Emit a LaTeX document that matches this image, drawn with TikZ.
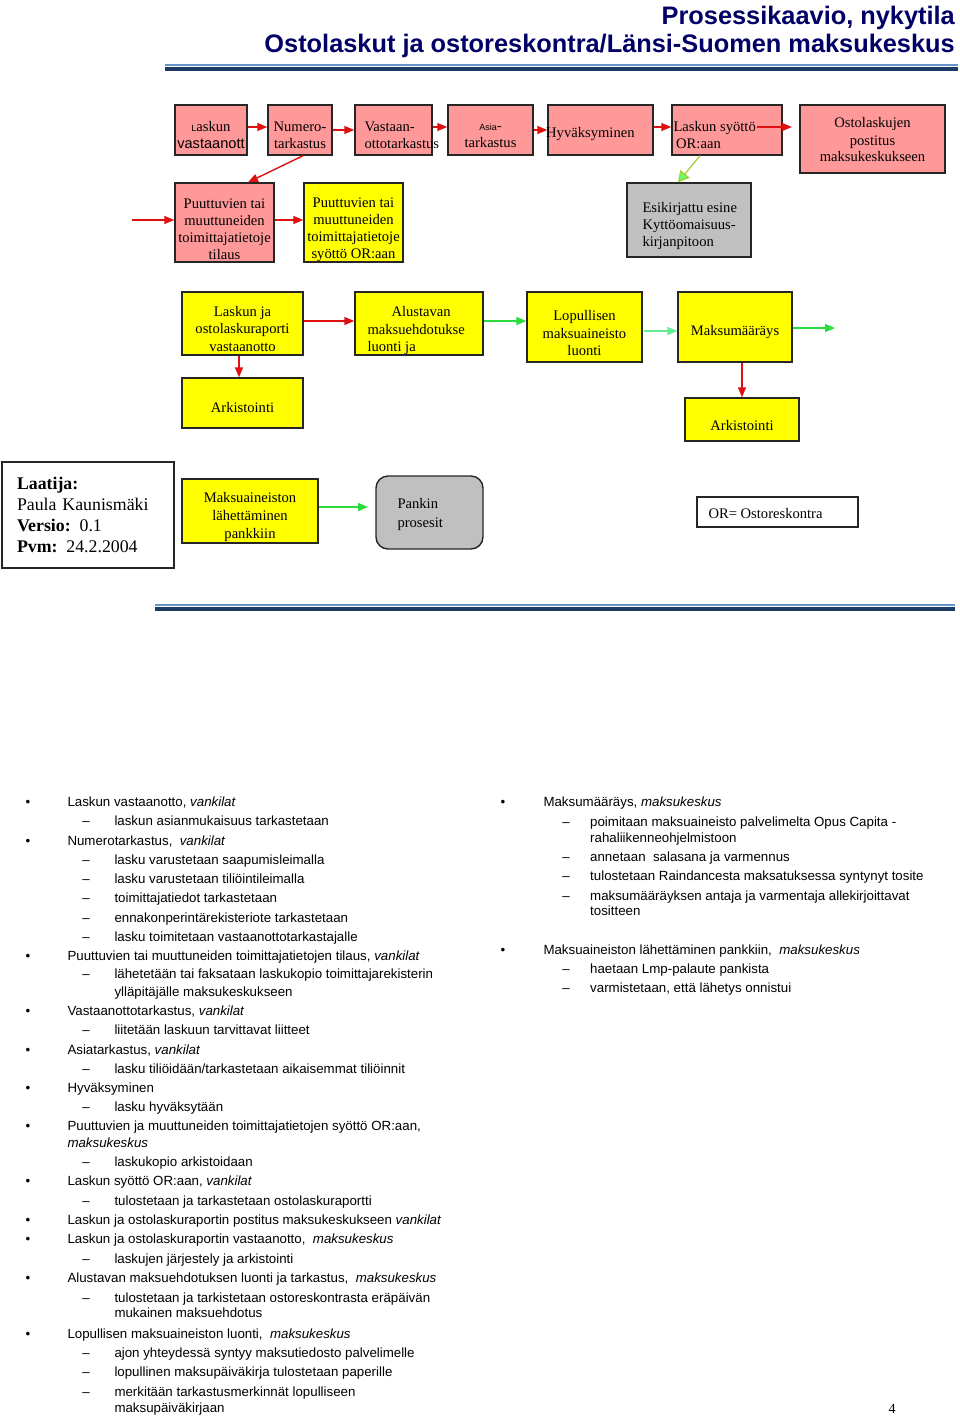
\documentclass[tikz,border=0pt]{standalone}
\usepackage{fontspec}
\setmainfont{Liberation Serif}
\setsansfont{Liberation Sans}
\usetikzlibrary{arrows.meta}
\definecolor{pinkbox}{RGB}{255,153,153}
\definecolor{ybox}{RGB}{255,255,0}
\definecolor{gbox}{RGB}{192,192,192}
\definecolor{redarr}{RGB}{222,16,16}
\definecolor{grarr}{RGB}{40,220,60}
\definecolor{mintarr}{RGB}{100,235,150}
\definecolor{ygarr}{RGB}{160,205,50}
\definecolor{titleblue}{RGB}{0,0,102}
\definecolor{ruledark}{RGB}{28,58,100}
\definecolor{rulelight}{RGB}{100,150,200}
\newcommand\bxfont{\fontsize{14.6}{17}\selectfont}
\newcommand\lstfont{\sffamily\fontsize{13.3}{15}\selectfont}
\newcommand\smallsf{\sffamily\fontsize{9}{10}\selectfont}
\newcommand\litem[3]{\node[lst,anchor=mid] (#1m) at (28,#2) {•};\node[lst] (#1) at (67.3,#2) {#3};}
\newcommand\lsub[3]{\node[lst,anchor=mid] (#1m) at (86,#2) {–};\node[lst] (#1) at (114.3,#2) {#3};}
\newcommand\lcont[4]{\node[lst] (#1) at (#2,#3) {#4};}
\newcommand\ritem[3]{\node[lst,anchor=mid] (#1m) at (503,#2) {•};\node[lst] (#1) at (543.3,#2) {#3};}
\newcommand\rsub[3]{\node[lst,anchor=mid] (#1m) at (566,#2) {–};\node[lst] (#1) at (590,#2) {#3};}
\begin{document}
\begin{tikzpicture}[x=1pt,y=-1pt,
  box/.style={draw=black!85, line width=1.4pt, inner sep=0pt},
  btxt/.style={inner sep=0pt, align=center, font=\bxfont},
  arr/.style={line width=1.4pt, -{Triangle[length=10pt,width=8pt]}},
  lst/.style={anchor=mid west, inner sep=0pt, font=\lstfont, yshift=-1.5pt},
  ttl/.style={anchor=base east, inner sep=0pt, text=titleblue, font=\sffamily\bfseries\fontsize{25.35}{28}\selectfont}]
\useasboundingbox[fill=white] (0,0) rectangle (960,1417);

% title
\node[ttl] (t1) at (955,24) {Prosessikaavio, nykytila};
\node[ttl] (t2) at (955,52) {Ostolaskut ja ostoreskontra/Länsi-Suomen maksukeskus};
\draw[rulelight, line width=1.5pt] (165,65) -- (958,65);
\draw[ruledark, line width=4.5pt] (165,69) -- (958,69);

% row 1
\node[box, fill=pinkbox, minimum width=72pt, minimum height=50pt] (b1) at (211,130) {};
\node[btxt] (b1t) at ([yshift=-5.5pt]b1.center) {{\smallsf L}askun\\{\sffamily vastaanott}};
\node[box, fill=pinkbox, minimum width=64pt, minimum height=50pt] (b2) at (300,130) {};
\node[btxt] (b2t) at ([yshift=-5.5pt]b2.center) {Numero-\\tarkastus};
\node[box, fill=pinkbox, minimum width=77pt, minimum height=50pt] (b3) at (393.5,130) {};
\node[btxt, align=left, anchor=west] (b3t) at ([xshift=10pt,yshift=-5.5pt]b3.west) {Vastaan-\\ottotarkastus};
\node[box, fill=pinkbox, minimum width=85pt, minimum height=50pt] (b4) at (490.5,130) {};
\node[btxt] (b4t) at ([yshift=-5.5pt]b4.center) {{\smallsf Asia}-\\tarkastus};
\node[box, fill=pinkbox, minimum width=105pt, minimum height=50pt] (b5) at (600.5,130) {};
\node[btxt, anchor=west] (b5t) at ([xshift=-1.3pt,yshift=-4pt]b5.west) {Hyväksyminen};
\node[box, fill=pinkbox, minimum width=110pt, minimum height=50pt] (b6) at (727,130) {};
\node[btxt, align=left, anchor=west] (b6t) at ([xshift=2pt,yshift=-5.5pt]b6.west) {Laskun syöttö\\\hspace*{2.7pt}OR:aan};
\node[box, fill=pinkbox, minimum width=145pt, minimum height=68pt] (b7) at (872.5,139) {};
\node[btxt] (b7t) at ([yshift=-1pt]b7.center) {Ostolaskujen\\postitus\\maksukeskukseen};

% row 2
\node[box, fill=pinkbox, minimum width=99pt, minimum height=79pt] (b8) at (224.5,222.5) {};
\node[btxt] (b8t) at ([yshift=-6.5pt]b8.center) {Puuttuvien tai\\muuttuneiden\\toimittajatietoje\\tilaus};
\node[box, fill=ybox, minimum width=99pt, minimum height=79pt] (b9) at (353.5,222.5) {};
\node[btxt] (b9t) at ([yshift=-7pt]b9.center) {Puuttuvien tai\\muuttuneiden\\toimittajatietoje\\syöttö OR:aan};
\node[box, fill=gbox, minimum width=124pt, minimum height=74pt] (g1) at (689,220) {};
\node[btxt, align=left, anchor=west] (g1t) at ([xshift=16pt,yshift=-5.5pt]g1.west) {Esikirjattu esine\\Kyttöomaisuus-\\kirjanpitoon};

% row 3
\node[box, fill=ybox, minimum width=121pt, minimum height=63pt] (b10) at (242.5,323.5) {};
\node[btxt, font=\fontsize{14.6}{17.5}\selectfont] (b10t) at ([yshift=-5pt]b10.center) {Laskun ja\\ostolaskuraporti\\vastaanotto};
\node[box, fill=ybox, minimum width=128pt, minimum height=63pt] (b11) at (419,323.5) {};
\node[btxt, align=left, anchor=west, font=\fontsize{14.6}{17.5}\selectfont] (b11t) at ([xshift=13pt,yshift=-7pt]b11.west) {\hspace*{24pt}Alustavan\\maksuehdotukse\\luonti ja};
\node[box, fill=ybox, minimum width=115pt, minimum height=70pt] (b12) at (584.5,327) {};
\node[btxt, font=\fontsize{14.6}{17.3}\selectfont] (b12t) at ([yshift=-6pt]b12.center) {Lopullisen\\maksuaineisto\\luonti};
\node[box, fill=ybox, minimum width=114pt, minimum height=70pt] (b13) at (735,327) {};
\node[btxt] (b13t) at ([yshift=-5pt]b13.center) {Maksumääräys};
\node[box, fill=ybox, minimum width=121pt, minimum height=50pt] (a1) at (242.5,403) {};
\node[btxt] (a1t) at ([yshift=-4pt]a1.center) {Arkistointi};
\node[box, fill=ybox, minimum width=114pt, minimum height=43pt] (a2) at (742,419.5) {};
\node[btxt] (a2t) at ([yshift=-5.5pt]a2.center) {Arkistointi};

% row 4
\node[box, fill=white, line width=1.5pt, minimum width=172pt, minimum height=106pt, text width=142pt, inner xsep=15pt, align=left, font=\fontsize{17.8}{21}\selectfont] (info) at (88,515)
  {\textbf{Laatija:}\\Paula Kaunismäki\\\textbf{Versio:} 0.1\\\textbf{Pvm:} 24.2.2004};
\node[box, fill=ybox, minimum width=136pt, minimum height=64pt] (m1) at (250,511) {};
\node[btxt, font=\fontsize{14.6}{18.3}\selectfont] (m1t) at ([yshift=-6pt]m1.center) {Maksuaineiston\\lähettäminen\\pankkiin};
\node[box, fill=gbox, rounded corners=12pt, minimum width=107pt, minimum height=73pt] (p1) at (429.5,512.5) {};
\node[btxt, align=left, anchor=west, font=\fontsize{14.6}{18.3}\selectfont] (p1t) at ([xshift=22pt,yshift=-2pt]p1.west) {Pankin\\prosesit};
\node[box, fill=white, minimum width=161pt, minimum height=30pt] (or) at (777.5,512) {};
\node[btxt, anchor=west] (ort) at ([xshift=12pt,yshift=-1.5pt]or.west) {OR= Ostoreskontra};

\draw[rulelight, line width=1.5pt] (155,605) -- (955,605);
\draw[ruledark, line width=4.5pt] (155,609) -- (955,609);

% connectors
\draw[arr,redarr] (b1.east |- 0,127) -- (b2.west |- 0,127);
\draw[arr,redarr] (b2.east |- 0,130) -- (b3.west |- 0,130);
\draw[arr,redarr] (b3.east |- 0,127) -- (b4.west |- 0,127);
\draw[arr,redarr] (b4.east |- 0,130) -- (b5.west |- 0,130);
\draw[arr,redarr] (b5.east |- 0,127) -- (b6.west |- 0,127);
\coordinate (s67) at (757,127);
\coordinate (e67) at (792,127);
\draw[arr,redarr] (s67) -- (e67);
\draw[arr,redarr] ([xshift=3pt]b2.south) -- ([xshift=23.5pt]b8.north);
\coordinate (in8) at (132,220);
\draw[arr,redarr] (in8) -- (b8.west |- in8);
\draw[arr,redarr] (b8.east |- in8) -- (b9.west |- in8);
\draw[line width=1.2pt, ygarr, -{Triangle[length=11pt,width=12pt,fill=green!60!white]}] ([xshift=-27pt]b6.south) -- ([xshift=-11pt]g1.north);
\draw[arr,redarr] (b10.east |- 0,321) -- (b11.west |- 0,321);
\draw[arr,grarr] (b11.east |- 0,321) -- (b12.west |- 0,321);
\draw[arr,mintarr] ([xshift=1pt]b12.east |- 0,331) -- (b13.west |- 0,331);
\coordinate (out13) at (835,328);
\draw[arr,grarr] (b13.east |- out13) -- (out13);
\draw[arr,redarr] ([xshift=7pt]b13.south) -- (a2.north);
\draw[arr,redarr] ([xshift=-3.5pt]b10.south) -- ([xshift=-3.5pt]a1.north);
\coordinate (outm) at (368,507);
\draw[arr,grarr] (m1.east |- outm) -- (outm);

% left list
\litem{l1}{803}{Laskun vastaanotto, \textit{vankilat}}
\lsub{l2}{822}{laskun asianmukaisuus tarkastetaan}
\litem{l3}{841.5}{Numerotarkastus, ~\textit{vankilat}}
\lsub{l4}{861}{lasku varustetaan saapumisleimalla}
\lsub{l5}{880}{lasku varustetaan tiliöintileimalla}
\lsub{l6}{899}{toimittajatiedot tarkastetaan}
\lsub{l7}{918.3}{ennakonperintärekisteriote tarkastetaan}
\lsub{l8}{937.7}{lasku toimitetaan vastaanottotarkastajalle}
\litem{l9}{956.7}{Puuttuvien tai muuttuneiden toimittajatietojen tilaus, \textit{vankilat}}
\lsub{l10}{974.3}{lähetetään tai faksataan laskukopio toimittajarekisterin}
\lcont{l11}{114.3}{992.3}{ylläpitäjälle maksukeskukseen}
\litem{l12}{1012}{Vastaanottotarkastus, \textit{vankilat}}
\lsub{l13}{1030.7}{liitetään laskuun tarvittavat liitteet}
\litem{l14}{1050.5}{Asiatarkastus, \textit{vankilat}}
\lsub{l15}{1069.3}{lasku tiliöidään/tarkastetaan aikaisemmat tiliöinnit}
\litem{l16}{1088.3}{Hyväksyminen}
\lsub{l17}{1107.7}{lasku hyväksytään}
\litem{l18}{1126.5}{Puuttuvien ja muuttuneiden toimittajatietojen syöttö OR:aan,}
\lcont{l19}{67.3}{1143.3}{\textit{maksukeskus}}
\lsub{l20}{1162.7}{laskukopio arkistoidaan}
\litem{l21}{1182}{Laskun syöttö OR:aan, \textit{vankilat}}
\lsub{l22}{1201.5}{tulostetaan ja tarkastetaan ostolaskuraportti}
\litem{l23}{1221}{Laskun ja ostolaskuraportin postitus maksukeskukseen \textit{vankilat}}
\litem{l24}{1240}{Laskun ja ostolaskuraportin vastaanotto, ~\textit{maksukeskus}}
\lsub{l25}{1259.3}{laskujen järjestely ja arkistointi}
\litem{l26}{1279}{Alustavan maksuehdotuksen luonti ja tarkastus, ~\textit{maksukeskus}}
\lsub{l27}{1298.3}{tulostetaan ja tarkistetaan ostoreskontrasta eräpäivän}
\lcont{l28}{114.3}{1314}{mukainen maksuehdotus}
\litem{l29}{1334.3}{Lopullisen maksuaineiston luonti, ~\textit{maksukeskus}}
\lsub{l30}{1353.3}{ajon yhteydessä syntyy maksutiedosto palvelimelle}
\lsub{l31}{1372.7}{lopullinen maksupäiväkirja tulostetaan paperille}
\lsub{l32}{1392.3}{merkitään tarkastusmerkinnät lopulliseen}
\lcont{l33}{114.3}{1408.3}{maksupäiväkirjaan}

% right list
\ritem{r1}{802.3}{Maksumääräys, \textit{maksukeskus}}
\rsub{r2}{822.3}{poimitaan maksuaineisto palvelimelta Opus Capita -}
\lcont{r3}{590}{838.3}{rahaliikenneohjelmistoon}
\rsub{r4}{857.7}{annetaan ~salasana ja varmennus}
\rsub{r5}{876.7}{tulostetaan Raindancesta maksatuksessa syntynyt tosite}
\rsub{r6}{896.7}{maksumääräyksen antaja ja varmentaja allekirjoittavat}
\lcont{r7}{590}{911.7}{tositteen}
\ritem{r8}{950.7}{Maksuaineiston lähettäminen pankkiin, ~\textit{maksukeskus}}
\rsub{r9}{970}{haetaan Lmp-palaute pankista}
\rsub{r10}{989}{varmistetaan, että lähetys onnistui}

\node[anchor=mid, inner sep=0pt, font=\fontsize{14}{16}\selectfont] (pg) at (892,1411) {4};
\end{tikzpicture}
\end{document}
